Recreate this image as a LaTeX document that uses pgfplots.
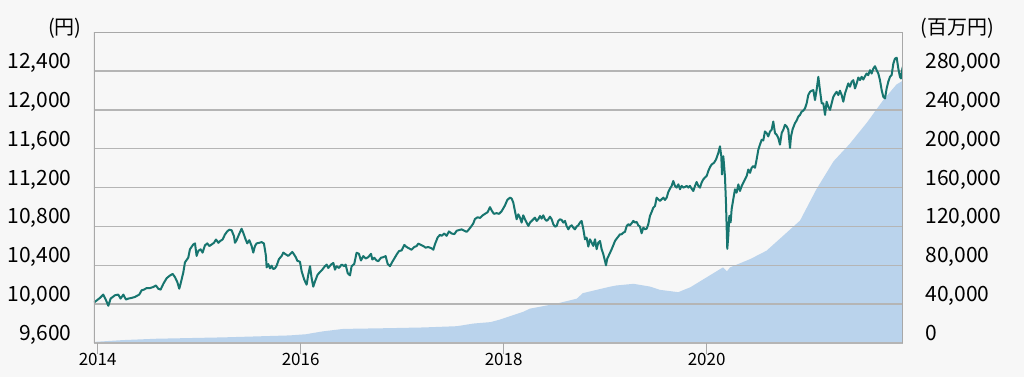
\documentclass[border=0pt]{standalone}
\usepackage{pgfplots}
\pgfplotsset{compat=1.18}
\usepackage{pgfplotstable}
\usepackage{fontspec}
\setmainfont{Noto Sans CJK JP}
\definecolor{bgc}{HTML}{F7F7F7}
\definecolor{linec}{HTML}{17756F}
\definecolor{areac}{HTML}{BAD3EC}
\definecolor{gridc}{HTML}{B5B5B5}
\definecolor{borderc}{HTML}{A8A8A8}

\pgfplotstableread{
x y
2013.964 800
2013.99 1300
2014.25 3000
2014.58 4400
2015.24 5800
2015.89 7800
2016.05 9000
2016.22 12000
2016.42 14500
2016.88 15300
2017.21 16000
2017.54 17300
2017.70 20000
2017.87 21500
2017.96 24000
2018.19 32000
2018.26 35400
2018.52 40500
2018.72 45600
2018.78 51300
2018.92 54800
2019.05 58000
2019.11 59200
2019.28 60900
2019.44 58100
2019.54 54700
2019.72 52300
2019.84 57400
2020.00 67600
2020.16 77800
2020.20 73800
2020.23 77800
2020.43 86400
2020.59 95000
2020.75 110000
2020.92 126000
2021.08 158000
2021.25 187000
2021.41 205000
2021.58 227000
2021.74 250000
2021.87 266000
2021.934 270000
}\assets

\pgfplotstableread{
x y
2013.964 10017
2014.023 10064
2014.055 10098
2014.082 10041
2014.105 9983
2014.128 10057
2014.170 10091
2014.203 10098
2014.226 10057
2014.253 10098
2014.279 10047
2014.302 10057
2014.335 10064
2014.368 10074
2014.384 10084
2014.410 10098
2014.433 10142
2014.456 10149
2014.482 10165
2014.515 10165
2014.548 10176
2014.574 10192
2014.597 10159
2014.620 10149
2014.647 10209
2014.680 10267
2014.712 10294
2014.739 10311
2014.762 10277
2014.785 10226
2014.804 10159
2014.817 10209
2014.844 10327
2014.860 10429
2014.893 10479
2014.909 10564
2014.942 10614
2014.959 10625
2014.975 10496
2014.991 10547
2015.014 10564
2015.034 10530
2015.057 10605
2015.080 10625
2015.100 10598
2015.123 10614
2015.146 10631
2015.166 10665
2015.189 10631
2015.205 10648
2015.231 10665
2015.254 10716
2015.277 10749
2015.297 10766
2015.320 10760
2015.343 10699
2015.353 10631
2015.369 10658
2015.392 10716
2015.418 10776
2015.435 10733
2015.458 10665
2015.474 10625
2015.494 10658
2015.517 10598
2015.533 10530
2015.550 10598
2015.566 10625
2015.592 10631
2015.615 10638
2015.638 10625
2015.658 10496
2015.665 10378
2015.681 10412
2015.698 10368
2015.714 10395
2015.730 10361
2015.747 10368
2015.763 10395
2015.786 10463
2015.813 10496
2015.829 10530
2015.852 10513
2015.878 10496
2015.895 10513
2015.918 10537
2015.934 10513
2015.954 10479
2015.967 10446
2015.993 10436
2016.010 10337
2016.036 10250
2016.059 10200
2016.075 10303
2016.092 10390
2016.108 10268
2016.124 10180
2016.141 10233
2016.167 10303
2016.190 10330
2016.213 10355
2016.239 10390
2016.256 10407
2016.272 10372
2016.299 10407
2016.322 10424
2016.338 10355
2016.354 10390
2016.377 10372
2016.404 10407
2016.430 10390
2016.443 10407
2016.463 10320
2016.486 10296
2016.502 10390
2016.528 10414
2016.551 10529
2016.574 10518
2016.594 10449
2016.617 10494
2016.640 10470
2016.666 10483
2016.693 10518
2016.706 10459
2016.725 10477
2016.748 10449
2016.765 10442
2016.791 10477
2016.814 10483
2016.837 10494
2016.857 10414
2016.880 10390
2016.903 10435
2016.923 10470
2016.946 10511
2016.969 10546
2016.995 10553
2017.021 10609
2017.044 10588
2017.067 10574
2017.093 10560
2017.120 10588
2017.143 10598
2017.159 10623
2017.185 10609
2017.208 10598
2017.231 10581
2017.257 10588
2017.290 10574
2017.307 10560
2017.323 10616
2017.349 10685
2017.372 10713
2017.389 10703
2017.415 10727
2017.438 10703
2017.461 10748
2017.487 10727
2017.514 10720
2017.537 10755
2017.560 10762
2017.586 10769
2017.612 10755
2017.635 10744
2017.652 10762
2017.678 10796
2017.701 10831
2017.717 10876
2017.744 10894
2017.767 10887
2017.790 10911
2017.816 10929
2017.842 10946
2017.865 10998
2017.882 10963
2017.904 10929
2017.931 10936
2017.954 10929
2017.980 10956
2018.013 11016
2018.036 11072
2018.062 11096
2018.079 11086
2018.095 11044
2018.111 10959
2018.128 10873
2018.144 10924
2018.161 10890
2018.177 10839
2018.193 10914
2018.210 10873
2018.226 10839
2018.243 10805
2018.259 10839
2018.276 10856
2018.292 10873
2018.308 10890
2018.325 10856
2018.341 10873
2018.358 10907
2018.374 10880
2018.390 10914
2018.407 10873
2018.423 10856
2018.440 10873
2018.456 10900
2018.473 10873
2018.489 10822
2018.505 10798
2018.522 10804
2018.538 10856
2018.555 10873
2018.571 10866
2018.587 10839
2018.604 10856
2018.620 10804
2018.637 10770
2018.653 10798
2018.670 10811
2018.686 10787
2018.702 10770
2018.719 10798
2018.735 10811
2018.752 10839
2018.768 10856
2018.785 10770
2018.801 10667
2018.817 10685
2018.834 10592
2018.850 10667
2018.867 10633
2018.883 10599
2018.900 10667
2018.916 10565
2018.932 10633
2018.949 10650
2018.965 10565
2018.982 10513
2018.998 10445
2019.008 10400
2019.021 10469
2019.041 10513
2019.064 10565
2019.080 10606
2019.097 10650
2019.113 10674
2019.129 10695
2019.146 10719
2019.162 10719
2019.179 10736
2019.195 10743
2019.212 10804
2019.228 10822
2019.244 10811
2019.261 10832
2019.277 10856
2019.294 10839
2019.310 10846
2019.326 10811
2019.343 10798
2019.359 10729
2019.376 10787
2019.392 10770
2019.409 10777
2019.425 10822
2019.441 10907
2019.458 10948
2019.474 10993
2019.491 11010
2019.507 11096
2019.523 11079
2019.540 11062
2019.556 11079
2019.573 11096
2019.589 11072
2019.606 11096
2019.622 11154
2019.638 11188
2019.655 11216
2019.671 11267
2019.688 11216
2019.704 11199
2019.721 11233
2019.737 11182
2019.753 11216
2019.770 11199
2019.786 11206
2019.803 11216
2019.819 11199
2019.835 11216
2019.852 11188
2019.868 11164
2019.885 11216
2019.901 11257
2019.918 11216
2019.934 11199
2019.950 11250
2019.967 11284
2019.983 11302
2020.000 11319
2020.016 11370
2020.033 11410
2020.049 11437
2020.072 11454
2020.092 11488
2020.115 11556
2020.131 11624
2020.144 11522
2020.151 11334
2020.164 11522
2020.180 11317
2020.190 11045
2020.203 10569
2020.213 10705
2020.223 10909
2020.236 10841
2020.246 10977
2020.262 11079
2020.279 11181
2020.295 11147
2020.312 11232
2020.328 11164
2020.345 11215
2020.361 11249
2020.377 11283
2020.394 11317
2020.410 11385
2020.427 11351
2020.443 11403
2020.459 11420
2020.476 11403
2020.492 11488
2020.509 11590
2020.525 11641
2020.542 11692
2020.558 11685
2020.574 11777
2020.591 11760
2020.607 11726
2020.624 11777
2020.640 11794
2020.656 11879
2020.673 11760
2020.689 11743
2020.706 11709
2020.722 11641
2020.739 11760
2020.755 11794
2020.771 11845
2020.788 11828
2020.804 11794
2020.821 11607
2020.831 11726
2020.847 11801
2020.870 11862
2020.886 11889
2020.903 11930
2020.919 11947
2020.936 11981
2020.952 11991
2020.969 12015
2020.985 12066
2021.001 12151
2021.018 12185
2021.034 12196
2021.051 12202
2021.067 12100
2021.083 12202
2021.100 12339
2021.116 12202
2021.133 12066
2021.149 12066
2021.166 11947
2021.182 12083
2021.198 12032
2021.215 11998
2021.231 12066
2021.248 12134
2021.264 12162
2021.280 12185
2021.297 12151
2021.313 12196
2021.330 12151
2021.346 12083
2021.363 12168
2021.379 12219
2021.395 12271
2021.412 12237
2021.428 12288
2021.445 12305
2021.461 12219
2021.478 12271
2021.494 12332
2021.510 12305
2021.527 12339
2021.543 12311
2021.560 12345
2021.576 12373
2021.592 12356
2021.609 12407
2021.625 12373
2021.642 12424
2021.658 12448
2021.675 12407
2021.691 12373
2021.707 12305
2021.724 12202
2021.740 12134
2021.757 12117
2021.773 12219
2021.789 12288
2021.806 12339
2021.822 12356
2021.839 12475
2021.855 12526
2021.872 12536
2021.888 12424
2021.904 12339
2021.914 12322
2021.931 12441
}\price

\begin{document}
\begin{tikzpicture}
\fill[bgc] (0,0) rectangle (512pt,188.5pt);
\pgfplotsset{
  common/.style={
    at={(47pt,17pt)}, anchor=south west,
    scale only axis, width=404.5pt, height=155.5pt,
    xmin=2013.964, xmax=2021.934,
    scaled x ticks=false, scaled y ticks=false,
    axis line style={draw=none},
    clip=true,
  }
}
\begin{axis}[common,
  ymin=0, ymax=320000,
  ytick={0,40000,80000,120000,160000,200000,240000,280000},
  yticklabels={{0},{40,000},{80,000},{120,000},{160,000},{200,000},{240,000},{280,000}},
  yticklabel pos=right,
  xtick=\empty,
  ytick style={draw=none},
  yticklabel style={font=\fontsize{10.5}{12}\selectfont, anchor=base west, inner sep=0pt, xshift=11pt, yshift=1.2pt},
]
\addplot[fill=areac, draw=none] table[x=x,y=y] {\assets} \closedcycle;
\end{axis}
\begin{axis}[common,
  ymin=9600, ymax=12800,
  ytick={9600,10000,10400,10800,11200,11600,12000,12400},
  yticklabels={{9,600},{10,000},{10,400},{10,800},{11,200},{11,600},{12,000},{12,400}},
  ymajorgrids,
  grid style={gridc, line width=0.75pt},
  xtick={2014,2016,2018,2020},
  xticklabels={2014,2016,2018,2020},
  xtick pos=left,
  ytick pos=left,
  tick align=outside,
  major tick length=5.5pt,
  xtick style={draw=borderc, line width=0.6pt},
  ytick style={draw=none},
  xticklabel style={font=\fontsize{8.5}{10}\selectfont, inner sep=0pt, yshift=0.5pt},
  yticklabel style={font=\fontsize{10.5}{12}\selectfont, anchor=base east, inner sep=0pt, xshift=-5.5pt, yshift=1.2pt},
]
\addplot[linec, line width=1pt, line join=round, mark=none] table[x=x,y=y] {\price};
\draw[borderc, line width=1pt] (rel axis cs:0,0) -- (rel axis cs:0,1);
\draw[borderc, line width=1pt] (rel axis cs:1,0) -- (rel axis cs:1,1);
\draw[borderc, line width=0.6pt] (rel axis cs:0,1) -- (rel axis cs:1,1);
\end{axis}
\node[font=\fontsize{10}{12}\selectfont] at (32.5pt,174.5pt) {(円)};
\node[font=\fontsize{10}{12}\selectfont] at (478.5pt,174.5pt) {(百万円)};
\pgfresetboundingbox
\path[use as bounding box] (0,0) rectangle (512pt,188.5pt);
\end{tikzpicture}
\end{document}
